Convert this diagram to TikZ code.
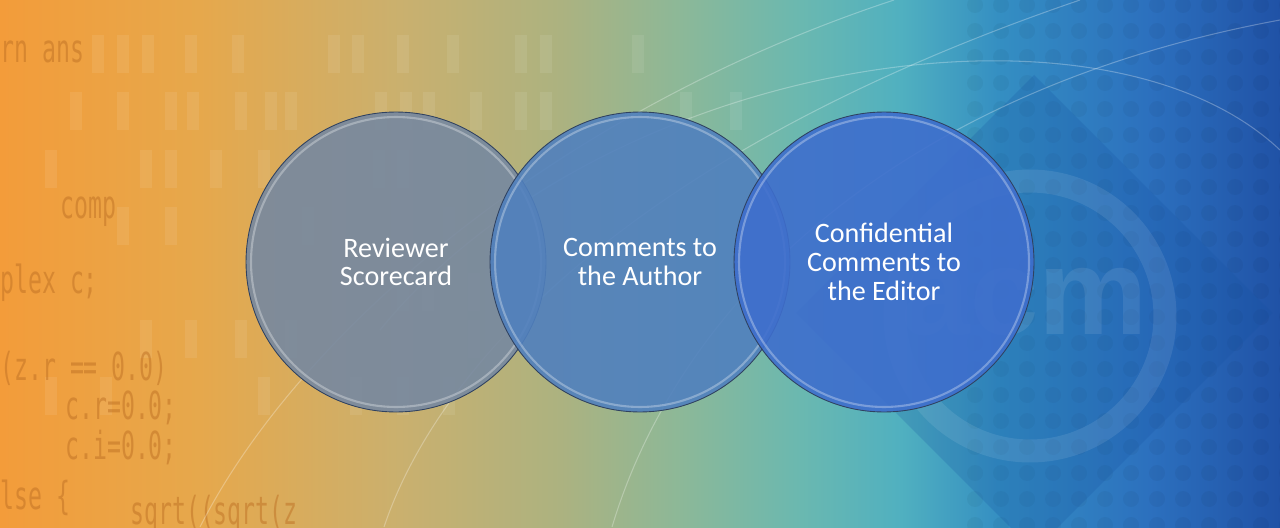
\documentclass[tikz,border=0pt]{standalone}
\usepackage{fontspec}
\setmainfont{Carlito}
\newfontfamily\codefont{DejaVu Sans Mono}
\newfontfamily\logofont{Liberation Sans}

\definecolor{wash0}{RGB}{243,156,58}
\definecolor{wash1}{RGB}{230,168,76}
\definecolor{wash2}{RGB}{202,176,110}
\definecolor{wash3}{RGB}{172,178,128}
\definecolor{wash4}{RGB}{140,184,152}
\definecolor{wash5}{RGB}{106,184,176}
\definecolor{wash6}{RGB}{80,176,192}
\definecolor{wash7}{RGB}{52,142,194}
\definecolor{wash8}{RGB}{44,112,190}
\definecolor{wash9}{RGB}{32,82,166}
\definecolor{codeink}{RGB}{190,112,36}
\definecolor{bubbleline}{RGB}{48,66,96}
\definecolor{revfill}{RGB}{118,136,160}
\definecolor{authfill}{RGB}{80,128,190}
\definecolor{editfill}{RGB}{62,110,205}
\definecolor{logoshade}{RGB}{20,80,160}

\pgfdeclarehorizontalshading{bgwash}{100bp}{color(0bp)=(wash0); color(25bp)=(wash0);
	color(32.8bp)=(wash1); color(40.6bp)=(wash2); color(46.9bp)=(wash3); color(51.6bp)=(wash4);
	color(56.3bp)=(wash5); color(60.2bp)=(wash6); color(64.1bp)=(wash7); color(69.9bp)=(wash8);
	color(75bp)=(wash9); color(100bp)=(wash9)}

\tikzset{
	bubble/.style={circle, minimum size=6cm, inner sep=0pt, draw=bubbleline, line width=0.5pt,
		fill opacity=0.9, text=white, text opacity=1, align=center,
		font=\fontsize{16}{16.4}\selectfont},
	gloss/.style={draw=white, opacity=.3, line width=1.2pt},
	codeline/.style={anchor=west, inner sep=0pt, text=codeink, opacity=.5,
		font=\codefont\fontsize{22}{22}\selectfont, xscale=.6},
	bar/.style={fill=white, opacity=.08},
	halftone/.style={fill=black, opacity=.04},
	streak/.style={draw=white, opacity=.28, line width=0.6pt}
}

\begin{document}
\begin{tikzpicture}[x=0.02cm, y=-0.02cm]
			%%%%% START %%%%%
			
			\useasboundingbox (0,0) rectangle (1280,527);
			\shade[shading=bgwash] (0,0) rectangle (1280,527);
			
			\foreach \i in {0,...,12}
				\foreach \j in {0,...,20}
					\fill[halftone] ({975+26*\i},{5+26*\j}) circle[radius=0.16cm];
			
			\foreach \x/\y in {92/35,117/35,142/35,185/35,232/35,328/35,352/35,397/35,447/35,515/35,540/35,632/35,
				70/92,117/92,165/92,187/92,235/92,265/92,285/92,375/92,400/92,423/92,470/92,515/92,540/92,680/92,730/92,
				45/150,140/150,165/150,210/150,258/150,373/150,397/150,
				117/207,165/207,302/207,443/207,
				397/273,422/273,468/273,
				140/320,185/320,235/320,285/320,468/320,
				45/377,100/377,258/377,350/377,397/377,443/377}
				\fill[bar] (\x,\y) rectangle ++(12,38);
			
			% acm mark
			\fill[logoshade, opacity=.22] (1034,75) -- (1272,313) -- (1034,551) -- (796,313) -- cycle;
			\draw[white, opacity=.09, line width=0.46cm] (1030,316) circle[radius=2.7cm];
			\node[white, opacity=.09, inner sep=0pt, font=\logofont\bfseries\fontsize{70}{70}\selectfont] (logo) at (1025,302) {acm};
			
			% code in the back
			\node[codeline] (c1) at (0,52) {rn ans};
			\node[codeline] (c2) at (60,212) {comp};
			\node[codeline] (c3) at (0,283) {plex c;};
			\node[codeline] (c4) at (0,368) {(z.r == 0.0)};
			\node[codeline] (c5) at (65,408) {c.r=0.0;};
			\node[codeline] (c6) at (65,448) {c.i=0.0;};
			\node[codeline] (c7) at (0,498) {lse \{};
			\node[codeline] (c8) at (130,514) {sqrt((sqrt(z};
			
			\draw[streak] (200,527) .. controls (300,330) and (560,110) .. (894,0);
			\draw[streak] (384,527) .. controls (440,360) and (640,150) .. (1080,0);
			\draw[streak] (612,527) .. controls (680,300) and (900,90) .. (1280,20);
			\draw[streak] (380,330) .. controls (600,60) and (1100,-20) .. (1280,150);
			
			% the three bubbles
			\node[bubble, fill=revfill] (rev) at (396,262) {Reviewer\\Scorecard};
			\draw[gloss] (rev.center) circle[radius=2.9cm];
			\node[bubble, fill=authfill] (auth) at (640,262) {Comments to\\the Author};
			\draw[gloss] (auth.center) circle[radius=2.9cm];
			\node[bubble, fill=editfill] (edit) at (884,262) {Confidential\\Comments to\\the Editor};
			\draw[gloss] (edit.center) circle[radius=2.9cm];
			
			%%%%% END %%%%%
\end{tikzpicture}
\end{document}
